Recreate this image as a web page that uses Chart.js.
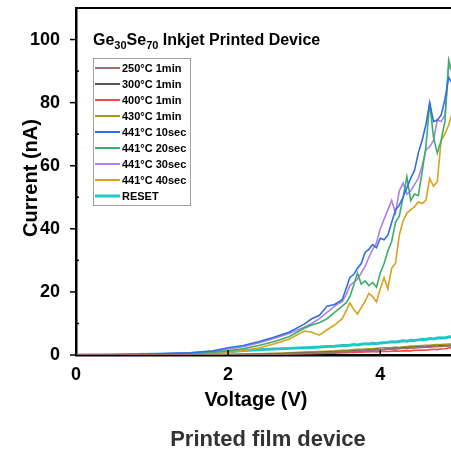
<!DOCTYPE html>
<html>
<head>
<meta charset="utf-8">
<script src="https://cdn.jsdelivr.net/npm/chart.js@4.4.0/dist/chart.umd.min.js"></script>
<style>
  html, body { margin: 0; padding: 0; background: #fff; }
  canvas { display: block; }
</style>
</head>
<body>
<canvas id="ivChart" width="451" height="449"></canvas>
<script>
// I-V sweeps, voltage in V, current in nA
const voltage = [0, 0.5, 1.0, 1.5, 1.8, 2.0, 2.2, 2.4, 2.6, 2.8, 3.0, 3.1, 3.2, 3.3, 3.4,
  3.5, 3.55, 3.6, 3.65, 3.7, 3.75, 3.8, 3.85, 3.9, 3.95, 4.0, 4.05, 4.1, 4.15, 4.2,
  4.25, 4.3, 4.35, 4.4, 4.45, 4.5, 4.55, 4.6, 4.65, 4.7, 4.75, 4.8, 4.85, 4.9, 4.95];

const i250c1min = [0, 0, 0.02, 0.04, 0.06, 0.08, 0.12, 0.18, 0.25, 0.35, 0.5, 0.6, 0.7, 0.8, 0.9,
  1.0, 1.05, 1.1, 1.2, 1.25, 1.3, 1.4, 1.45, 1.5, 1.6, 1.65, 1.7, 1.8, 1.85, 1.9,
  2.0, 2.05, 2.1, 2.2, 2.25, 2.3, 2.4, 2.45, 2.5, 2.6, 2.65, 2.7, 2.8, 2.85, 2.9];
const i300c1min = [0, 0, 0.02, 0.05, 0.08, 0.1, 0.15, 0.2, 0.3, 0.45, 0.6, 0.7, 0.8, 0.9, 1.0,
  1.1, 1.15, 1.2, 1.3, 1.35, 1.4, 1.5, 1.55, 1.6, 1.7, 1.75, 1.8, 1.9, 2.0, 2.05,
  2.1, 2.2, 2.3, 2.35, 2.4, 2.5, 2.55, 2.6, 2.7, 2.75, 2.8, 2.9, 2.95, 3.0, 3.05];
const i400c1min = [0, 0, 0, 0.02, 0.05, 0.08, 0.1, 0.15, 0.2, 0.3, 0.4, 0.45, 0.5, 0.55, 0.6,
  0.7, 0.7, 0.8, 0.8, 0.9, 0.9, 1.0, 1.0, 1.1, 1.0, 1.1, 1.2, 1.1, 1.2, 1.3,
  1.2, 1.3, 1.4, 1.3, 1.5, 1.5, 1.6, 1.5, 1.7, 1.8, 1.7, 1.9, 2.0, 2.2, 2.3];
const i430c1min = [0, 0, 0.05, 0.1, 0.15, 0.2, 0.3, 0.4, 0.5, 0.7, 0.9, 1.0, 1.1, 1.2, 1.3,
  1.5, 1.5, 1.6, 1.7, 1.8, 1.8, 1.9, 2.0, 2.0, 2.1, 2.2, 2.3, 2.3, 2.4, 2.5,
  2.4, 2.6, 2.7, 2.8, 2.8, 2.9, 3.0, 3.1, 3.1, 3.2, 3.3, 3.3, 3.4, 3.5, 3.5];
const i441c10s = [0, 0.1, 0.3, 0.7, 1.3, 2.3, 3.0, 4.2, 5.6, 7.2, 9.8, 11.5, 12.6, 15.5, 16.0,
  17.5, 21.0, 24.6, 25.5, 27.5, 29.0, 32.5, 33.5, 35.0, 34.0, 37.0, 36.5, 38.0, 42.0, 46.0,
  47.5, 50.0, 53.0, 56.0, 58.5, 64.0, 68.0, 73.0, 80.0, 74.0, 74.5, 76.0, 81.0, 88.0, 86.0];
const i441c20s = [0, 0.1, 0.2, 0.5, 0.9, 1.3, 2.0, 3.0, 4.2, 5.8, 8.5, 9.5, 10.2, 11.5, 13.5,
  15.5, 16.5, 18.5, 22.0, 26.0, 22.5, 23.5, 22.0, 23.0, 21.5, 26.0, 29.0, 33.0, 36.0, 42.0,
  44.0, 50.0, 56.5, 49.0, 51.0, 50.5, 58.0, 66.0, 80.0, 69.0, 64.0, 68.0, 74.0, 93.5, 89.0];
const i441c30s = [0, 0.1, 0.3, 0.6, 1.0, 1.8, 2.6, 3.8, 5.2, 6.8, 8.8, 10.0, 11.5, 13.5, 15.5,
  17.0, 19.0, 22.0, 23.0, 24.0, 26.0, 28.0, 31.0, 33.5, 35.5, 40.0, 43.0, 46.0, 49.0, 45.0,
  52.0, 54.5, 51.0, 52.0, 54.0, 56.0, 60.0, 65.0, 66.0, 68.0, 74.5, 74.0, 76.0, 91.5, 90.0];
const i441c40s = [0, 0.05, 0.2, 0.4, 0.6, 0.9, 1.4, 2.2, 3.5, 5.0, 7.6, 7.2, 6.3, 8.0, 9.5,
  11.5, 14.0, 16.5, 14.5, 13.0, 15.0, 17.0, 19.5, 18.5, 16.8, 21.0, 24.5, 21.0, 27.5, 29.0,
  38.0, 42.5, 45.0, 46.0, 47.0, 48.5, 48.0, 49.0, 56.0, 53.5, 55.0, 68.0, 70.0, 73.0, 77.0];
const iReset = [0, 0.1, 0.2, 0.5, 0.8, 1.0, 1.4, 1.7, 1.9, 2.1, 2.3, 2.4, 2.5, 2.7, 2.8,
  3.0, 3.0, 3.1, 3.3, 3.2, 3.4, 3.6, 3.5, 3.7, 3.6, 3.8, 3.9, 4.0, 4.2, 4.1,
  4.3, 4.5, 4.4, 4.7, 4.6, 4.8, 5.0, 4.9, 5.2, 5.1, 5.4, 5.5, 5.4, 5.7, 5.8];

const seriesNames = ['250°C 1min', '300°C 1min', '400°C 1min', '430°C 1min',
  '441°C 10sec', '441°C 20sec', '441°C 30sec', '441°C 40sec', 'RESET'];
const yTicks = [0, 20, 40, 60, 80, 100];
const xTicks = [0, 2, 4];

const FONT = '"Liberation Sans", Arial, sans-serif';

function pts(arr) {
  return voltage.map((v, k) => ({ x: v, y: arr[k] }));
}

function line(label, arr, color, width) {
  return {
    label: label,
    data: pts(arr),
    borderColor: color,
    backgroundColor: color,
    borderWidth: width || 1.6,
    pointRadius: 0,
    tension: 0,
    fill: false
  };
}

const datasets = [
  line(seriesNames[0], i250c1min, '#a0706c'),
  line(seriesNames[1], i300c1min, '#555555'),
  line(seriesNames[2], i400c1min, '#f24848'),
  line(seriesNames[3], i430c1min, '#9c9c18'),
  line(seriesNames[4], i441c10s, '#2f6fe4'),
  line(seriesNames[5], i441c20s, '#3cae6c'),
  line(seriesNames[6], i441c30s, '#b07fe8'),
  line(seriesNames[7], i441c40s, '#d9a11e'),
  line(seriesNames[8], iReset, '#1ec8c8', 3)
];

// frame, ticks, in-plot title, legend and captions
const decor = {
  id: 'decor',
  afterDraw(chart) {
    const { ctx, chartArea: a, scales: { x, y } } = chart;
    ctx.save();
    ctx.strokeStyle = '#000';
    ctx.lineWidth = 2;
    ctx.beginPath();
    ctx.moveTo(a.left - 1, a.top);
    ctx.lineTo(a.right, a.top);
    ctx.stroke();

    // y ticks: major outward, minor inward
    ctx.lineWidth = 1.5;
    for (let v = 0; v <= 110; v += 10) {
      const py = y.getPixelForValue(v);
      ctx.beginPath();
      if (yTicks.includes(v)) {
        ctx.moveTo(a.left - 6, py);
        ctx.lineTo(a.left, py);
      } else {
        ctx.moveTo(a.left, py);
        ctx.lineTo(a.left + 3, py);
      }
      ctx.stroke();
    }
    xTicks.forEach(v => {
      const px = x.getPixelForValue(v);
      ctx.beginPath();
      ctx.moveTo(px, a.bottom);
      ctx.lineTo(px, a.bottom - 5);
      ctx.stroke();
    });

    // title with subscripts
    ctx.fillStyle = '#000';
    ctx.textBaseline = 'alphabetic';
    ctx.textAlign = 'left';
    let tx = 93;
    const ty = 45;
    const parts = [['Ge', 0], ['30', 1], ['Se', 0], ['70', 1], [' Inkjet Printed Device', 0]];
    parts.forEach(([s, sub]) => {
      ctx.font = sub ? 'bold 11px ' + FONT : 'bold 16px ' + FONT;
      ctx.fillText(s, tx, sub ? ty + 4 : ty);
      tx += ctx.measureText(s).width;
    });

    // legend box
    const lx = 93, ly = 58, lw = 97, lh = 147;
    ctx.strokeStyle = '#a0a0a0';
    ctx.lineWidth = 1;
    ctx.strokeRect(lx + 0.5, ly + 0.5, lw, lh);
    ctx.font = 'bold 11px ' + FONT;
    ctx.textBaseline = 'middle';
    chart.data.datasets.forEach((ds, k) => {
      const ry = 68 + k * 16;
      ctx.strokeStyle = ds.borderColor;
      ctx.lineWidth = ds.borderWidth >= 3 ? 3 : 2;
      ctx.beginPath();
      ctx.moveTo(lx + 2, ry);
      ctx.lineTo(lx + 27, ry);
      ctx.stroke();
      ctx.fillStyle = '#000';
      ctx.fillText(ds.label, lx + 29, ry + 0.5);
    });

    // axis titles
    ctx.font = 'bold 20px ' + FONT;
    ctx.textAlign = 'center';
    ctx.textBaseline = 'alphabetic';
    ctx.fillText('Voltage (V)', 256, 406);
    ctx.save();
    ctx.translate(37, 178);
    ctx.rotate(-Math.PI / 2);
    ctx.fillText('Current (nA)', 0, 0);
    ctx.restore();

    ctx.fillStyle = '#333';
    ctx.font = 'bold 22px ' + FONT;
    ctx.fillText('Printed film device', 268, 446);
    ctx.restore();
  }
};

new Chart(document.getElementById('ivChart'), {
  type: 'line',
  data: { datasets: datasets },
  options: {
    responsive: false,
    animation: false,
    devicePixelRatio: 1,
    layout: { padding: { top: 8, right: 0, left: 0, bottom: 0 } },
    plugins: { legend: { display: false }, tooltip: { enabled: false } },
    scales: {
      x: {
        type: 'linear',
        min: 0,
        max: 4.93,
        grid: { display: false },
        border: { display: true, color: '#000', width: 2.5 },
        ticks: {
          stepSize: 2,
          includeBounds: false,
          padding: 1,
          color: '#000',
          font: { family: FONT, size: 18, weight: 'bold' },
          callback: v => xTicks.includes(v) ? String(v) : ''
        },
        afterFit: s => { s.height = 94; s.paddingLeft = 0; s.paddingRight = 0; }
      },
      y: {
        type: 'linear',
        min: 0,
        max: 110,
        grid: { display: false },
        border: { display: true, color: '#000', width: 2.5 },
        ticks: {
          stepSize: 20,
          includeBounds: false,
          autoSkip: false,
          padding: 8,
          color: '#000',
          font: { family: FONT, size: 18, weight: 'bold' },
          callback: v => yTicks.includes(v) ? String(v) : ''
        },
        afterFit: s => { s.width = 76; s.paddingTop = 0; s.paddingBottom = 0; }
      }
    }
  },
  plugins: [decor]
});
</script>
</body>
</html>
